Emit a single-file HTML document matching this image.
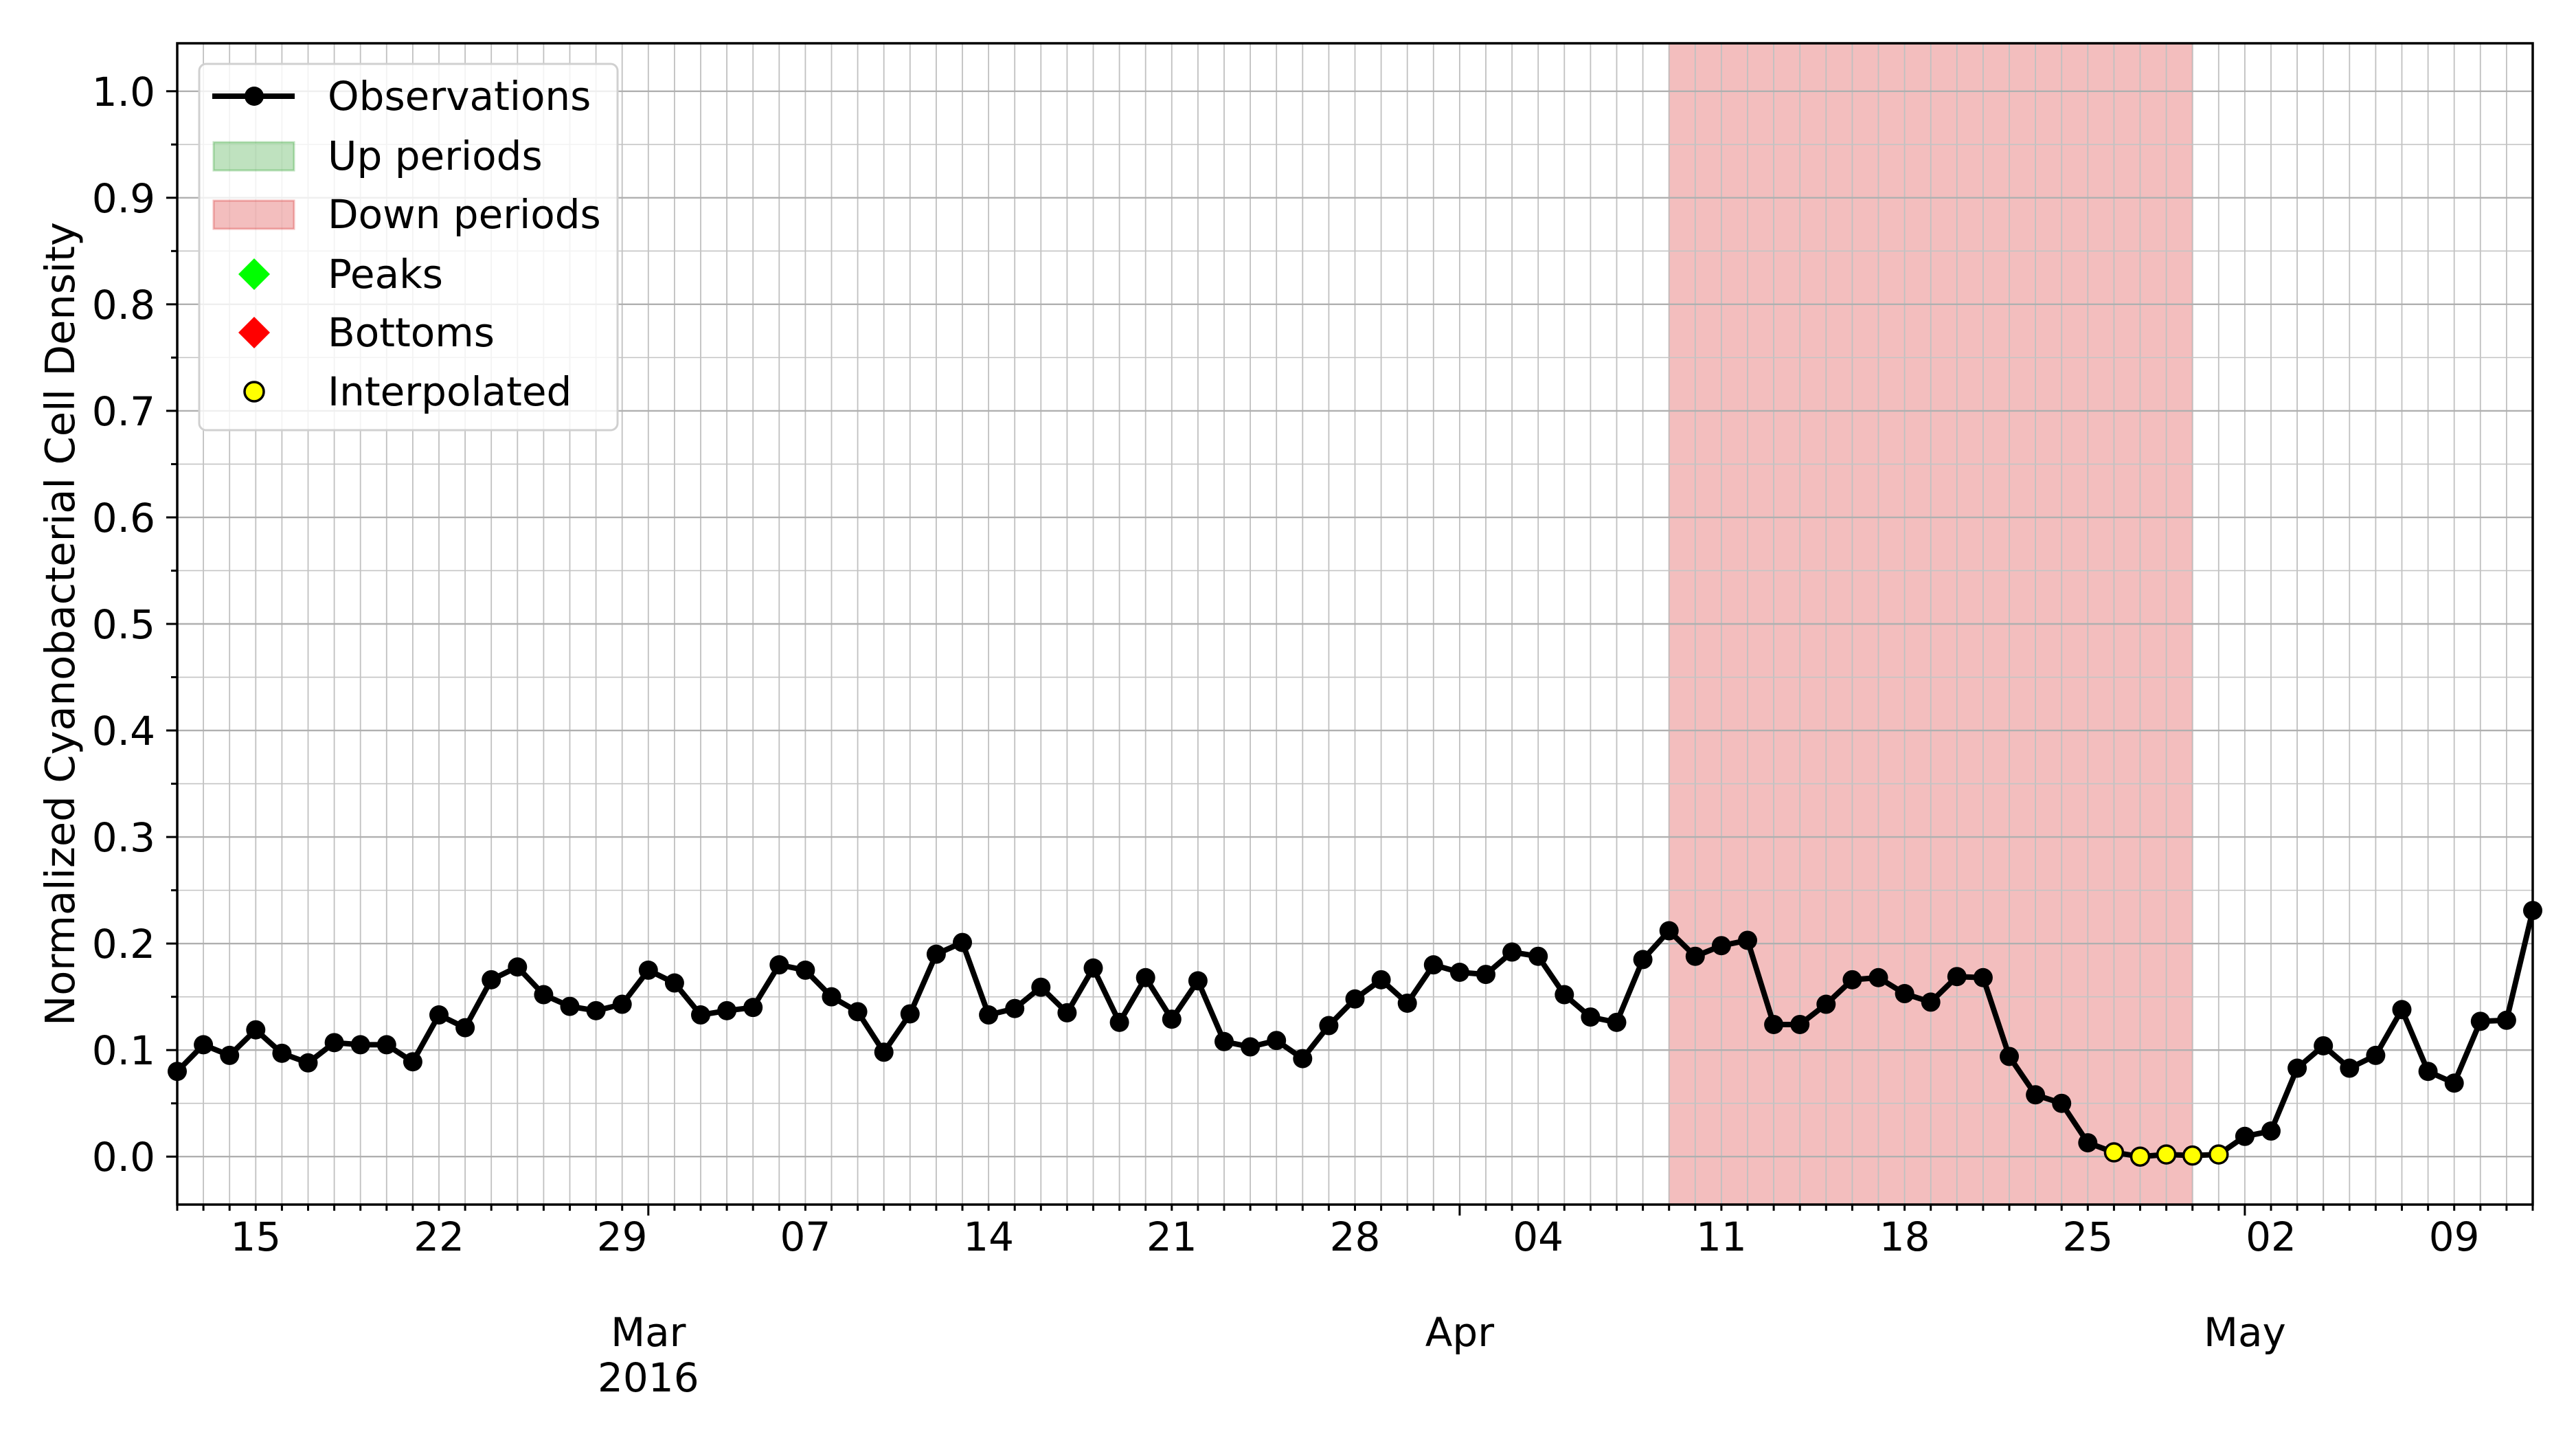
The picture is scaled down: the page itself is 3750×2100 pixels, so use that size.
<!DOCTYPE html>
<html><head><meta charset="utf-8"><style>
html,body{margin:0;padding:0;background:#fff;}
svg{display:block;font-family:"DejaVu Sans","Liberation Sans",sans-serif;}
</style></head><body>
<svg id="chart" width="3750" height="2100" viewBox="0 0 3750 2100" xmlns="http://www.w3.org/2000/svg">
<rect width="3750" height="2100" fill="#fff"/>
<g id="shade"></g>
<g id="grid"></g>
<g id="series"></g>
<g id="axes"></g>
<text x="0" y="0" transform="translate(108,908) rotate(-90)" text-anchor="middle" font-size="59">Normalized Cyanobacterial Cell Density</text>
<g>
<rect x="290" y="93" width="609" height="533" rx="10" fill="#fff" fill-opacity="0.8" stroke="#d0d0d0" stroke-width="3"/>
<g><line x1="309" y1="140" x2="429" y2="140" stroke="#000" stroke-width="8"/><circle cx="370" cy="140" r="14"/><text x="477" y="160" font-size="58">Observations</text></g>
<g><rect x="311" y="207" width="117" height="41" fill="#2ca02c" fill-opacity="0.3" stroke="#2ca02c" stroke-opacity="0.3" stroke-width="3"/><text x="477" y="247" font-size="58">Up periods</text></g>
<g><rect x="311" y="292" width="117" height="41" fill="#d62728" fill-opacity="0.3" stroke="#d62728" stroke-opacity="0.3" stroke-width="3"/><text x="477" y="332" font-size="58">Down periods</text></g>
<g><polygon points="370,376 393,399 370,422 347,399" fill="#00ff00"/><text x="477" y="419" font-size="58">Peaks</text></g>
<g><polygon points="370,461 393,484 370,507 347,484" fill="#ff0000"/><text x="477" y="504" font-size="58">Bottoms</text></g>
<g><circle cx="370" cy="570" r="14" fill="#ffff00" stroke="#000" stroke-width="3.5"/><text x="477" y="590" font-size="58">Interpolated</text></g>
</g>
</svg>
<script>
// Data: daily observations from 2016-02-12 (day 0) to 2016-05-12 (day 90)
const values = [0.080,0.105,0.095,0.119,0.097,0.088,0.107,0.105,0.105,0.089,
0.133,0.121,0.166,0.178,0.152,0.141,0.137,0.143,0.175,0.163,
0.133,0.137,0.140,0.180,0.175,0.150,0.136,0.098,0.134,0.190,
0.201,0.133,0.139,0.159,0.135,0.177,0.126,0.168,0.129,0.165,
0.108,0.103,0.109,0.092,0.123,0.148,0.166,0.144,0.180,0.173,
0.171,0.192,0.188,0.152,0.131,0.126,0.185,0.212,0.188,0.198,
0.203,0.124,0.124,0.143,0.166,0.168,0.153,0.145,0.169,0.168,
0.094,0.058,0.050,0.013,0.004,0.000,0.002,0.001,0.002,0.019,
0.024,0.083,0.104,0.083,0.095,0.138,0.080,0.069,0.127,0.128,0.231];
const interpolatedDays = [74,75,76,77,78];
const downPeriods = [[57,77]];
const yTicks = [0.0,0.1,0.2,0.3,0.4,0.5,0.6,0.7,0.8,0.9,1.0];
const weekTickDays = [3,10,17,24,31,38,45,52,59,66,73,80,87];
const weekTickLabels = ["15","22","29","07","14","21","28","04","11","18","25","02","09"];
const monthTickDays = [18,49,79];
const monthTickLabels = ["Mar","Apr","May"];

const NS="http://www.w3.org/2000/svg";
const L=258,R=3687,T=63,B=1753;
const xMin=0,xMax=90,yMin=-0.045,yMax=1.045;
function xs(d){return L+(d-xMin)/(xMax-xMin)*(R-L);}
function ys(v){return B-(v-yMin)/(yMax-yMin)*(B-T);}
function mk(tag,attrs,parent){const e=document.createElementNS(NS,tag);for(const k in attrs)e.setAttribute(k,attrs[k]);parent.appendChild(e);return e;}

const shade=document.getElementById('shade');
downPeriods.forEach(p=>{
  const r=mk('rect',{x:xs(p[0]),y:T,width:xs(p[1])-xs(p[0]),height:B-T,fill:'#d62728','fill-opacity':0.3,stroke:'#d62728','stroke-opacity':0.3,'stroke-width':2},shade);
  
  
});

const grid=document.getElementById('grid');
for(let d=xMin+1;d<xMax;d++){
  mk('line',{x1:xs(d),x2:xs(d),y1:T,y2:B,stroke:'#c0c0c0','stroke-width':1.8},grid);
}
for(let i=0;i<=21;i++){
  const v=i*0.05; if(v>yMax) break;
  const major=i%2===0;
  mk('line',{x1:L,x2:R,y1:ys(v),y2:ys(v),stroke:major?'#b0b0b0':'#c4c4c4','stroke-width':major?2.4:1.6},grid);
}

const series=document.getElementById('series');
const pl=mk('polyline',{points:values.map((v,i)=>xs(i)+','+ys(v)).join(' '),fill:'none',stroke:'#000','stroke-width':8,'stroke-linejoin':'round'},series);


values.forEach((v,i)=>{
  if(interpolatedDays.includes(i)) return;
  const c=mk('circle',{cx:xs(i),cy:ys(v),r:14,fill:'#000'},series);
  
  
});
interpolatedDays.forEach(i=>{
  const c=mk('circle',{cx:xs(i),cy:ys(values[i]),r:13,fill:'#ffff00',stroke:'#000','stroke-width':3.5},series);
  
  
});

const axes=document.getElementById('axes');
mk('rect',{x:L,y:T,width:R-L,height:B-T,fill:'none',stroke:'#000','stroke-width':3.5},axes);
for(let i=0;i<=21;i++){
  const v=i*0.05; if(v>yMax) break;
  const major=i%2===0;
  mk('line',{x1:L,x2:L-(major?16:9),y1:ys(v),y2:ys(v),stroke:'#000','stroke-width':3},axes);
}
yTicks.forEach(v=>{
  const t=mk('text',{x:L-32,y:ys(v)+21,'text-anchor':'end','font-size':58},axes);
  t.textContent=v.toFixed(1);
  
  
});
for(let d=xMin;d<=xMax;d++){
  const major=monthTickDays.includes(d);
  mk('line',{x1:xs(d),x2:xs(d),y1:B,y2:B+(major?16:9),stroke:'#000','stroke-width':3},axes);
}
weekTickDays.forEach((d,i)=>{
  const t=mk('text',{x:xs(d),y:1820,'text-anchor':'middle','font-size':58},axes);
  t.textContent=weekTickLabels[i];
  
  
});
monthTickDays.forEach((d,i)=>{
  const t=mk('text',{x:xs(d),y:1959,'text-anchor':'middle','font-size':58},axes);
  t.textContent=monthTickLabels[i];
  
  
});
const yr=mk('text',{x:xs(monthTickDays[0]),y:2025,'text-anchor':'middle','font-size':58},axes);
yr.textContent='2016';


</script>
</body></html>
